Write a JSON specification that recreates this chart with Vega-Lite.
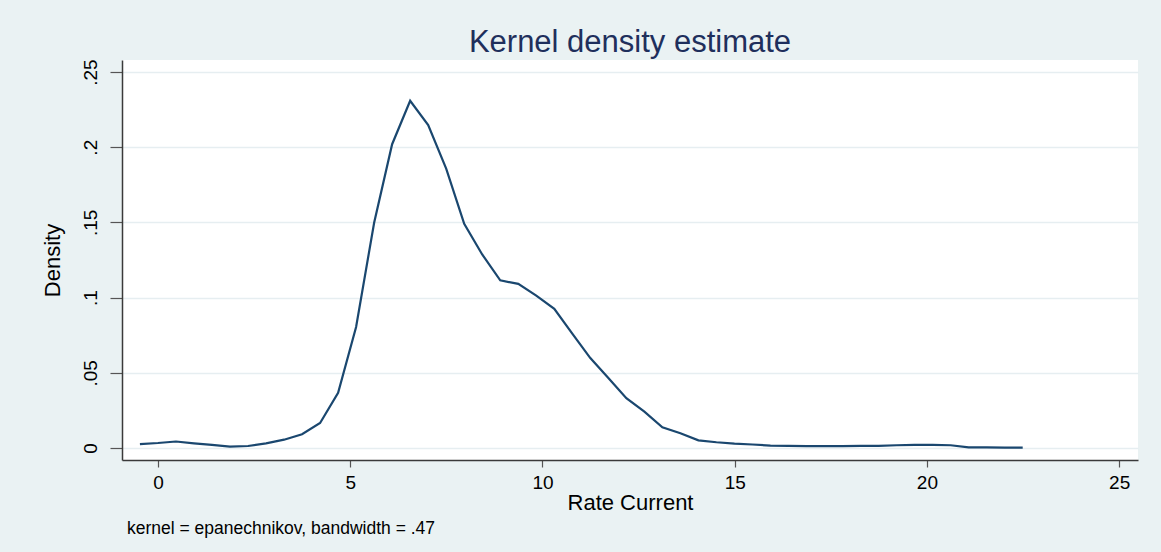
{
  "$schema": "https://vega.github.io/schema/vega-lite/v6.json",
  "background": "#EAF2F3",
  "padding": {"left": 40, "top": 26, "right": 23, "bottom": 15},
  "spacing": 0,
  "title": {
    "text": "kernel = epanechnikov, bandwidth = .47",
    "orient": "bottom",
    "anchor": "start",
    "frame": "bounds",
    "dx": 86,
    "offset": 7,
    "font": "Liberation Sans",
    "fontSize": 17.5,
    "fontWeight": "normal",
    "color": "#000000"
  },
  "vconcat": [
    {
      "width": 1016,
      "height": 400,
      "title": {
        "text": "Kernel density estimate",
        "anchor": "middle",
        "frame": "group",
        "font": "Liberation Sans",
        "fontSize": 31,
        "fontWeight": "normal",
        "color": "#1F2F5C",
        "offset": 0
      },
      "data": {
        "values": [
          {"x": -0.470, "density": 0.0026},
          {"x": -0.001, "density": 0.0033},
          {"x": 0.467, "density": 0.0043},
          {"x": 0.936, "density": 0.0031},
          {"x": 1.404, "density": 0.0020},
          {"x": 1.873, "density": 0.0009},
          {"x": 2.342, "density": 0.0013},
          {"x": 2.810, "density": 0.0031},
          {"x": 3.279, "density": 0.0055},
          {"x": 3.747, "density": 0.0091},
          {"x": 4.216, "density": 0.0166},
          {"x": 4.685, "density": 0.0367},
          {"x": 5.153, "density": 0.0805},
          {"x": 5.622, "density": 0.1498},
          {"x": 6.090, "density": 0.2020},
          {"x": 6.559, "density": 0.2309},
          {"x": 7.028, "density": 0.2147},
          {"x": 7.496, "density": 0.1858},
          {"x": 7.965, "density": 0.1490},
          {"x": 8.433, "density": 0.1287},
          {"x": 8.902, "density": 0.1115},
          {"x": 9.371, "density": 0.1091},
          {"x": 9.839, "density": 0.1013},
          {"x": 10.308, "density": 0.0925},
          {"x": 10.776, "density": 0.0760},
          {"x": 11.245, "density": 0.0598},
          {"x": 11.714, "density": 0.0465},
          {"x": 12.182, "density": 0.0331},
          {"x": 12.651, "density": 0.0242},
          {"x": 13.119, "density": 0.0138},
          {"x": 13.588, "density": 0.0098},
          {"x": 14.057, "density": 0.0051},
          {"x": 14.525, "density": 0.0038},
          {"x": 14.994, "density": 0.0029},
          {"x": 15.462, "density": 0.0023},
          {"x": 15.931, "density": 0.0016},
          {"x": 16.400, "density": 0.0014},
          {"x": 16.868, "density": 0.0012},
          {"x": 17.337, "density": 0.0012},
          {"x": 17.805, "density": 0.0012},
          {"x": 18.274, "density": 0.0014},
          {"x": 18.743, "density": 0.0014},
          {"x": 19.211, "density": 0.0018},
          {"x": 19.680, "density": 0.0020},
          {"x": 20.148, "density": 0.0020},
          {"x": 20.617, "density": 0.0018},
          {"x": 21.086, "density": 0.0004},
          {"x": 21.554, "density": 0.0004},
          {"x": 22.023, "density": 0.0002},
          {"x": 22.491, "density": 0.0002}
        ]
      },
      "mark": {"type": "line", "color": "#1A476F", "strokeWidth": 2.2, "interpolate": "linear"},
      "encoding": {
        "x": {
          "field": "x",
          "type": "quantitative",
          "scale": {"domain": [-0.936, 25.49], "nice": false, "zero": false},
          "axis": {
            "values": [0, 5, 10, 15, 20, 25],
            "title": "Rate Current",
            "grid": false,
            "tickSize": 7,
            "labelPadding": 6,
            "titlePadding": 0
          }
        },
        "y": {
          "field": "density",
          "type": "quantitative",
          "scale": {"domain": [-0.008, 0.258], "nice": false, "zero": false},
          "axis": {
            "values": [0, 0.05, 0.1, 0.15, 0.2, 0.25],
            "title": "Density",
            "grid": true,
            "labelAngle": 270,
            "labelAlign": "center",
            "labelBaseline": "bottom",
            "labelExpr": "datum.value == 0 ? '0' : '.' + split(format(datum.value, '.2~f'), '.')[1]",
            "tickSize": 12,
            "labelPadding": 10,
            "titlePadding": 17
          }
        }
      }
    }
  ],
  "config": {
    "view": {"fill": "#FFFFFF", "stroke": null},
    "axis": {
      "labelFont": "Liberation Sans",
      "titleFont": "Liberation Sans",
      "labelFontSize": 19,
      "titleFontSize": 22,
      "titleFontWeight": "normal",
      "labelColor": "#000000",
      "titleColor": "#000000",
      "domainColor": "#3A3A3A",
      "domainWidth": 1.5,
      "tickColor": "#555555",
      "tickWidth": 1.2,
      "gridColor": "#E6EEF1",
      "gridWidth": 1.5,
      "labelFlush": false,
      "labelOverlap": false
    }
  }
}
